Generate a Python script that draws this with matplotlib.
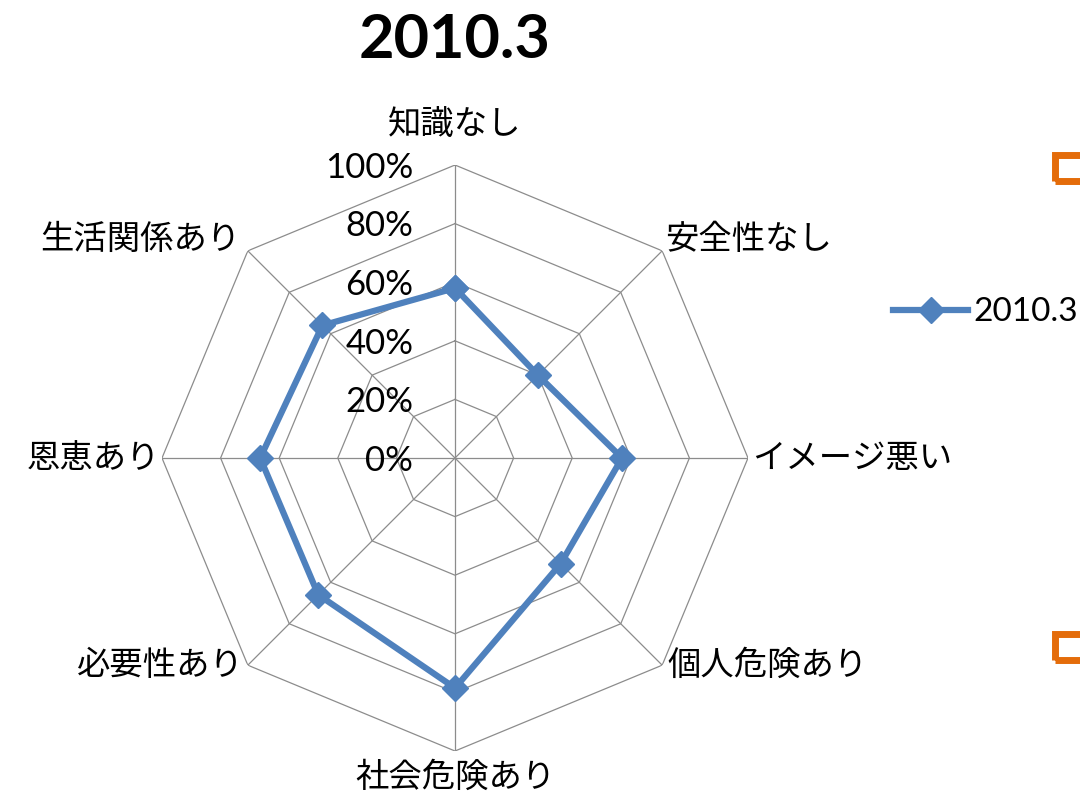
import numpy as np
import matplotlib.pyplot as plt
from matplotlib.patches import Rectangle

plt.rcParams['font.family'] = ['Noto Sans CJK JP', 'DejaVu Sans']

title = '2010.3'
series_name = '2010.3'
categories = ['知識なし', '安全性なし', 'イメージ悪い', '個人危険あり',
              '社会危険あり', '必要性あり', '恩恵あり', '生活関係あり']
values = [0.58, 0.40, 0.57, 0.51, 0.785, 0.66, 0.665, 0.64]
ticks = [0.0, 0.2, 0.4, 0.6, 0.8, 1.0]
tick_labels = ['0%', '20%', '40%', '60%', '80%', '100%']

blue = '#4F81BD'
grid_c = '#8C8C8C'

fig = plt.figure(figsize=(10.8, 8.01), dpi=100)
ax = fig.add_axes([0.15, 0.0624, 0.5426, 0.7316], projection='polar')
ax.set_theta_zero_location('N')
ax.set_theta_direction(-1)
ax.set_ylim(0, 1)
ax.grid(False)
ax.spines['polar'].set_visible(False)
ax.set_xticks([])
ax.set_yticks([])
ax.patch.set_alpha(0)

n = len(categories)
angles = np.arange(n) * 2 * np.pi / n
closed = np.append(angles, angles[0])

# octagon rings
for t in ticks[1:]:
    ax.plot(closed, [t] * (n + 1), color=grid_c, lw=0.9, zorder=1)
# spokes
for a in angles:
    ax.plot([a, a], [0, 1], color=grid_c, lw=0.9, zorder=1)

# data
ax.plot(closed, values + values[:1], color=blue, lw=4.5, marker='D',
        markersize=13, markerfacecolor=blue, markeredgecolor=blue,
        zorder=3, label=series_name)

# tick labels, left of the vertical axis
for t, lab in zip(ticks, tick_labels):
    ax.annotate(lab, xy=(0, t), xytext=(-30, -2), textcoords='offset points',
                ha='right', va='center', fontsize=25, family='Lato', zorder=4)

# category labels: (ha, offset in points) going clockwise from the top
label_pos = [('center', (0, 29)), ('left', (2, 8)), ('left', (3, 0)),
             ('left', (4, 0)), ('center', (0, -19)), ('right', (-3, 0)),
             ('right', (-1, 0)), ('right', (-5, 8))]
for a, lab, (ha, off) in zip(angles, categories, label_pos):
    ax.annotate(lab, xy=(a, 1.0), xytext=off, textcoords='offset points',
                ha=ha, va='center', fontsize=24)

fig.text(0.4213, 0.95, title, ha='center', va='center', fontsize=44,
         fontweight='bold', family='Lato')

leg = ax.legend(loc='center left', bbox_to_anchor=(0.827, 0.61),
                bbox_transform=fig.transFigure, frameon=False,
                prop={'family': 'Lato', 'size': 24}, handlelength=2.25,
                handletextpad=0.15, borderaxespad=0, borderpad=0)

# orange shape handles cut off at the right edge
for y0 in [153, 632]:
    fig.patches.append(Rectangle((1055 / 1080, 1 - (y0 + 28) / 801),
                                 60 / 1080, 26 / 801, transform=fig.transFigure,
                                 fill=False, edgecolor='#E46C0A', lw=5,
                                 clip_on=False))

fig.savefig('out.png', dpi=100)
